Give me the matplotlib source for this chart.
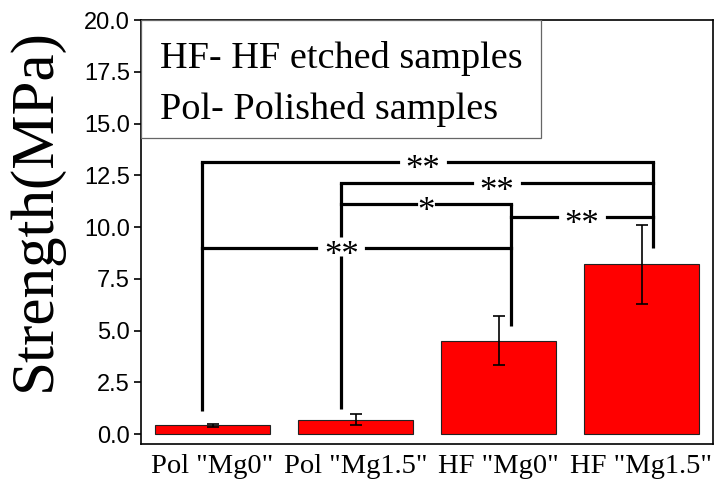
import matplotlib
matplotlib.use("Agg")
import matplotlib.pyplot as plt
from matplotlib.patches import Rectangle
from matplotlib.transforms import ScaledTranslation

# Bar data
categories = ['Pol "Mg0"', 'Pol "Mg1.5"', 'HF "Mg0"', 'HF "Mg1.5"']
strength = [0.42, 0.70, 4.50, 8.20]
strength_err = [0.08, 0.25, 1.18, 1.90]

# Significance brackets: compared bar pairs, bracket heights, labels
sig_pairs = [(0, 3), (1, 3), (1, 2), (2, 3), (0, 2)]
sig_levels = [13.15, 12.12, 11.11, 10.5, 9.0]
sig_labels = ['**', '**', '*', '**', '**']
sig_label_x = [1.47, 1.99, 1.495, 2.585, 0.90]
# vertical stems rising from each bar
stem_offsets = [-0.07, -0.10, 0.09, 0.08]
stem_bottoms = [1.13, 1.19, 5.23, 9.0]

legend_lines = ['HF- HF etched samples', 'Pol- Polished samples']

serif = ['Liberation Serif', 'DejaVu Serif']
sans = ['Liberation Sans', 'DejaVu Sans']

fig = plt.figure(figsize=(7.15, 4.82), dpi=100)
ax = fig.add_axes([141 / 715, 38 / 482, 572 / 715, 424 / 482])

x = list(range(len(categories)))
ax.bar(x, strength, width=0.8, color='#ff0000', edgecolor='#222222',
       linewidth=0.8, zorder=2)
ax.errorbar(x, strength, yerr=strength_err, fmt='none', ecolor='black',
            elinewidth=1.2, capsize=4, capthick=1.2, zorder=3)

# half-width of the blank gap left in a bracket line around its label
gap_half = {'*': 0.07, '**': 0.175}
vgap = (0.42, 0.50)
line_kw = dict(color='black', lw=2.3, zorder=4, solid_capstyle='projecting')

stem_x = [xi + off for xi, off in zip(x, stem_offsets)]

# vertical stems, interrupted where a label sits on them
for i, (sx, lo) in enumerate(zip(stem_x, stem_bottoms)):
    hi = max(lvl for (a, b), lvl in zip(sig_pairs, sig_levels) if i in (a, b))
    segs = [[lo, hi]]
    for lvl, lab, lx in zip(sig_levels, sig_labels, sig_label_x):
        if abs(lx - sx) < gap_half[lab] and lo < lvl < hi:
            segs = [[lo, lvl - vgap[0]], [lvl + vgap[1], hi]]
    for y0, y1 in segs:
        ax.plot([sx, sx], [y0, y1], **{**line_kw, 'solid_capstyle': 'butt'})

# horizontal bracket bars with a gap for the label
fs_star = 25
for (a, b), lvl, lab, lx in zip(sig_pairs, sig_levels, sig_labels, sig_label_x):
    g = gap_half[lab]
    x0, x1 = stem_x[a], stem_x[b]
    if x0 < lx - g:
        ax.plot([x0, lx - g], [lvl, lvl], **line_kw)
    if lx + g < x1:
        ax.plot([lx + g, x1], [lvl, lvl], **line_kw)
    shift = ScaledTranslation(0, -0.50 * fs_star / 72, fig.dpi_scale_trans)
    ax.text(lx, lvl, lab, ha='center', va='baseline', fontsize=fs_star,
            family=serif, zorder=5, transform=ax.transData + shift)

ax.set_xlim(-0.5, 3.5)
ax.set_ylim(-0.48, 20)
ax.set_yticks([0, 2.5, 5, 7.5, 10, 12.5, 15, 17.5, 20])
ax.set_yticklabels(['%.1f' % v for v in ax.get_yticks()], family=sans,
                   fontsize=17)
ax.set_xticks(x)
ax.set_xticklabels(categories, family=serif, fontsize=20.5)
ax.tick_params(axis='x', length=0, pad=7)
ax.tick_params(axis='y', direction='out', length=5, width=1.2, pad=3)
for s in ax.spines.values():
    s.set_linewidth(1.2)

# annotation box in the top-left corner
ax.add_patch(Rectangle((0, 0.722), 0.699, 0.278, transform=ax.transAxes,
                       facecolor='white', edgecolor='#666666', lw=0.9,
                       zorder=6))
for yy, line in zip([0.910, 0.790], legend_lines):
    ax.text(0.033, yy, line, transform=ax.transAxes, ha='left', va='center',
            fontsize=27.5, family=serif, zorder=7)

fig.text(35 / 715, 1 - 210 / 482, 'Strength(MPa)', rotation=90,
         ha='center', va='center', fontsize=44, family=serif)

fig.savefig('out.png', dpi=100)
